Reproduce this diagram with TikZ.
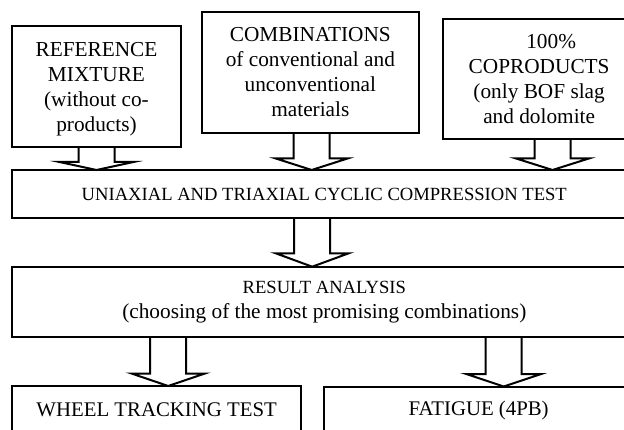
\documentclass[tikz,border=0pt]{standalone}
\usepackage{fontspec}
\setmainfont{Liberation Serif}
\usetikzlibrary{calc}
\tikzset{
  box/.style={draw, line width=2pt, rectangle, inner sep=0pt, outer sep=0pt,
              anchor=north west, align=center},
  fatline/.style={draw, line width=2pt, line join=miter},
  big/.style={font=\fontsize{21.3pt}{24.8pt}\selectfont},
  mid/.style={font=\fontsize{18.6pt}{25pt}\selectfont},
  low/.style={font=\fontsize{20.8pt}{25pt}\selectfont},
}
% #1 from node, #2 to node, #3 centre x, #4 head length, #5 half head width
\newcommand\fatarr[5]{%
  \draw[fatline] let \p1=(#1.south), \p2=(#2.north) in
    ({#3pt-18pt},\y1) -- ({#3pt-18pt},{\y2+#4pt}) -- ({#3pt-#5pt},{\y2+#4pt})
    -- (#3pt,\y2) -- ({#3pt+#5pt},{\y2+#4pt}) -- ({#3pt+18pt},{\y2+#4pt})
    -- ({#3pt+18pt},\y1);}
\begin{document}
\begin{tikzpicture}[x=1pt,y=-1pt]
\useasboundingbox (0,0) rectangle (624,430);
\clip (0,0) rectangle (624,430);

\node[box,minimum width=169pt,minimum height=121pt] (b1) at (12,25.7) {};
\node[big,align=center,inner sep=0pt] (b1t) at ([yshift=-3pt]b1.center)
  {REFERENCE\\MIXTURE\\(without co-\\products)};
\node[box,big,minimum width=217.3pt,minimum height=121pt] (b2) at (201.7,11.7)
  {COMBINATIONS\\of conventional and\\unconventional\\materials};
\node[box,big,minimum width=191.7pt,minimum height=120.3pt] (b3) at (443.3,19)
  {\hspace*{24pt}100\%\\COPRODUCTS\\(only BOF slag\\and dolomite};

\node[box,mid,minimum width=624pt,minimum height=48.3pt] (u) at (12.3,170)
  {UNIAXIAL AND TRIAXIAL CYCLIC COMPRESSION TEST};

\node[box,font=\fontsize{21.3pt}{25pt}\selectfont,minimum width=624pt,minimum height=70.3pt] (r) at (12.3,266.7)
  {{\fontsize{18.6pt}{25pt}\selectfont RESULT ANALYSIS}\\
   (choosing of the most promising combinations)};

\node[box,low,minimum width=288.7pt,minimum height=48pt] (w) at (12.3,386)
  {WHEEL TRACKING TEST};
\node[box,low,minimum width=308.7pt,minimum height=48pt] (f) at (324.3,386.5)
  {FATIGUE (4PB)};

\fatarr{b1}{u}{96.5}{8}{37}
\fatarr{b2}{u}{311.7}{11.7}{36.5}
\fatarr{b3}{u}{552.5}{11.7}{37}
\fatarr{u}{r}{312.2}{13.4}{36.5}
\fatarr{r}{w}{168.2}{12.5}{36.7}
\fatarr{r}{f}{503.7}{12.5}{37.5}
\end{tikzpicture}
\end{document}
